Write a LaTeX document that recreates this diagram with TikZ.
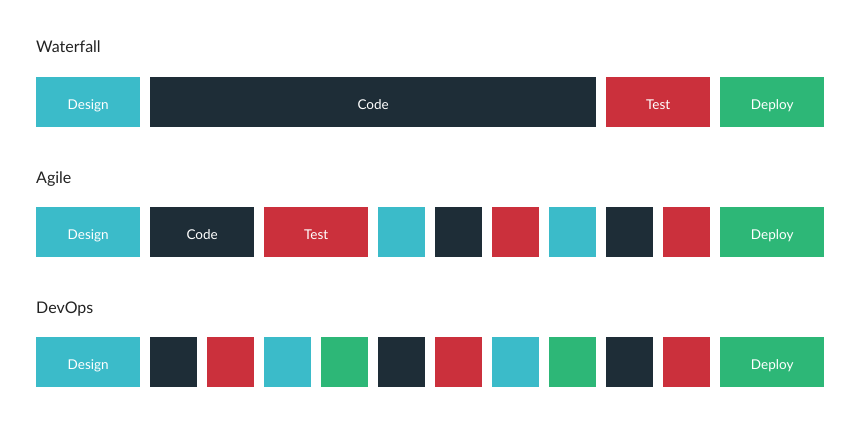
\documentclass[tikz,border=0pt]{standalone}
\usepackage{fontspec}
\setmainfont{Lato}
\definecolor{cyanbox}{HTML}{3BBBC9}
\definecolor{darkbox}{HTML}{1E2D37}
\definecolor{redbox}{HTML}{CB303C}
\definecolor{greenbox}{HTML}{2DB777}
\definecolor{titlegray}{HTML}{222222}
\begin{document}
\begin{tikzpicture}[x=1pt, y=-1pt,
        box/.style={anchor=north west, inner sep=0pt, minimum width=104pt, minimum height=50pt,
                text height=17pt, text depth=3pt, text=white, font=\fontsize{13.5}{15}\selectfont},
        sq/.style={box, minimum width=47pt},
        title/.style={anchor=base west, inner sep=0pt, text=titlegray, font=\fontsize{16}{19}\selectfont}]
            \useasboundingbox (0,0) rectangle (860,428);
            % Waterfall
            \node (waterfall) at (36,53) [title] {Waterfall};
            \node (wf-design) at (36,77) [box, fill=cyanbox] {Design};
            \node (wf-code) at (150,77) [box, fill=darkbox, minimum width=446pt] {Code};
            \node (wf-test) at (606,77) [box, fill=redbox] {Test};
            \node (wf-deploy) at (720,77) [box, fill=greenbox] {Deploy};
            % Agile
            \node (agile) at (36,183) [title] {Agile};
            \node (ag-design) at (36,207) [box, fill=cyanbox] {Design};
            \node (ag-code) at (150,207) [box, fill=darkbox] {Code};
            \node (ag-test) at (264,207) [box, fill=redbox] {Test};
            \foreach \c [count=\i from 0] in {cyanbox,darkbox,redbox,cyanbox,darkbox,redbox} {
                    \node (ag-sq\i) at (378+57*\i,207) [sq, fill=\c] {};
                }
            \node (ag-deploy) at (720,207) [box, fill=greenbox] {Deploy};
            % DevOps
            \node (devops) at (36,313) [title] {DevOps};
            \node (do-design) at (36,337) [box, fill=cyanbox] {Design};
            \foreach \c [count=\i from 0] in {darkbox,redbox,cyanbox,greenbox,darkbox,redbox,cyanbox,greenbox,darkbox,redbox} {
                    \node (do-sq\i) at (150+57*\i,337) [sq, fill=\c] {};
                }
            \node (do-deploy) at (720,337) [box, fill=greenbox] {Deploy};
        \end{tikzpicture}
\end{document}
